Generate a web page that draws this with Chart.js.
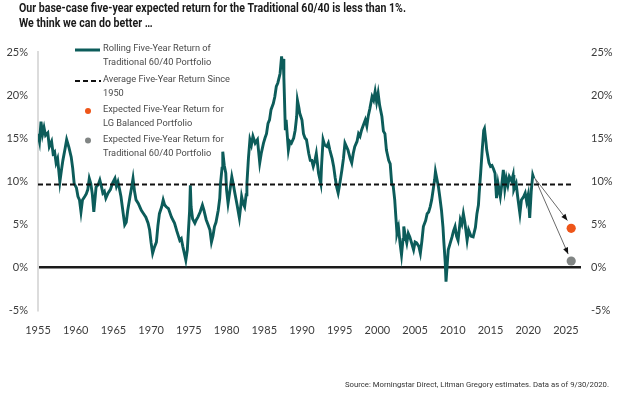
<!DOCTYPE html>
<html>
<head>
<meta charset="utf-8">
<script src="https://cdn.jsdelivr.net/npm/chart.js@4.4.1/dist/chart.umd.min.js"></script>
<style>
  html, body { margin: 0; padding: 0; background: #fff; }
  canvas { display: block; }
</style>
</head>
<body>
<canvas id="returns" width="624" height="399"></canvas>
<script>
// rolling five-year return of the traditional 60/40
const years = [
  1955.0, 1955.2, 1955.4, 1955.6, 1955.8, 1956.0, 1956.3, 1956.5, 1956.8, 1957.0,
  1957.2, 1957.4, 1957.6, 1957.9, 1958.1, 1958.3, 1958.6, 1958.8, 1959.1, 1959.4,
  1959.6, 1959.8, 1960.1, 1960.3, 1960.5, 1960.7, 1960.9, 1961.2, 1961.4, 1961.6,
  1961.8, 1962.0, 1962.2, 1962.4, 1962.6, 1962.7, 1963.0, 1963.2, 1963.4, 1963.6,
  1963.8, 1964.0, 1964.3, 1964.6, 1964.9, 1965.2, 1965.4, 1965.6, 1965.8, 1966.0,
  1966.3, 1966.5, 1966.7, 1966.9, 1967.2, 1967.4, 1967.6, 1967.8, 1968.0, 1968.3,
  1968.7, 1969.0, 1969.3, 1969.6, 1969.8, 1970.0, 1970.2, 1970.4, 1970.7, 1970.9,
  1971.1, 1971.4, 1971.6, 1971.8, 1972.0, 1972.3, 1972.7, 1973.1, 1973.4, 1973.8,
  1974.0, 1974.2, 1974.4, 1974.6, 1974.8, 1974.9, 1975.1, 1975.2, 1975.3, 1975.5,
  1975.8, 1976.0, 1976.2, 1976.5, 1976.8, 1977.0, 1977.3, 1977.6, 1977.8, 1978.0,
  1978.2, 1978.4, 1978.6, 1978.9, 1979.1, 1979.2, 1979.4, 1979.5, 1979.7, 1979.9,
  1980.0, 1980.2, 1980.4, 1980.7, 1980.9, 1981.1, 1981.4, 1981.7, 1981.9, 1982.0,
  1982.2, 1982.4, 1982.6, 1982.7, 1982.9, 1983.1, 1983.3, 1983.5, 1983.8, 1984.1,
  1984.4, 1984.6, 1984.9, 1985.1, 1985.3, 1985.5, 1985.7, 1985.9, 1986.2, 1986.4,
  1986.6, 1986.8, 1987.1, 1987.3, 1987.4, 1987.5, 1987.6, 1987.8, 1987.9, 1988.2,
  1988.4, 1988.6, 1988.9, 1989.1, 1989.3, 1989.4, 1989.6, 1989.7, 1990.0, 1990.2,
  1990.4, 1990.6, 1990.9, 1991.1, 1991.3, 1991.5, 1991.7, 1991.9, 1992.2, 1992.5,
  1992.6, 1992.8, 1993.0, 1993.3, 1993.5, 1993.7, 1994.0, 1994.2, 1994.4, 1994.6,
  1994.8, 1995.0, 1995.3, 1995.5, 1995.7, 1995.9, 1996.1, 1996.4, 1996.6, 1996.8,
  1997.0, 1997.3, 1997.5, 1997.7, 1997.9, 1998.1, 1998.4, 1998.6, 1998.8, 1999.0,
  1999.3, 1999.5, 1999.7, 1999.9, 2000.1, 2000.3, 2000.6, 2000.8, 2001.0, 2001.2,
  2001.5, 2001.7, 2001.9, 2002.1, 2002.3, 2002.5, 2002.6, 2002.8, 2003.0, 2003.2,
  2003.4, 2003.5, 2003.7, 2003.9, 2004.1, 2004.3, 2004.6, 2004.8, 2005.0, 2005.2,
  2005.5, 2005.7, 2005.9, 2006.1, 2006.4, 2006.6, 2006.8, 2007.0, 2007.2, 2007.4,
  2007.6, 2007.7, 2007.9, 2008.1, 2008.3, 2008.5, 2008.7, 2008.8, 2009.0, 2009.1,
  2009.3, 2009.4, 2009.6, 2009.9, 2010.1, 2010.3, 2010.5, 2010.7, 2011.0, 2011.2,
  2011.4, 2011.6, 2011.9, 2012.1, 2012.4, 2012.7, 2013.0, 2013.2, 2013.4, 2013.5,
  2013.7, 2013.9, 2014.1, 2014.2, 2014.4, 2014.5, 2014.8, 2015.0, 2015.2, 2015.4,
  2015.6, 2015.8, 2016.0, 2016.3, 2016.5, 2016.7, 2016.9, 2017.1, 2017.3, 2017.5,
  2017.8, 2018.0, 2018.1, 2018.4, 2018.6, 2018.9, 2019.1, 2019.4, 2019.6, 2019.8,
  2020.0, 2020.2, 2020.4, 2020.6, 2020.75
];
const rolling = [
  15.5, 14.6, 16.9, 15.4, 16.2, 15.3, 15.6, 14.0, 14.6, 13.2,
  13.4, 12.1, 12.6, 9.9, 11.2, 12.4, 13.8, 14.8, 13.9, 12.8,
  11.5, 9.7, 9.2, 8.2, 7.8, 6.4, 7.8, 8.2, 8.5, 9.0,
  10.3, 9.7, 8.5, 6.4, 8.3, 9.3, 9.6, 10.1, 9.4, 8.6,
  8.8, 8.0, 8.6, 9.0, 9.8, 10.3, 9.4, 9.9, 9.1, 8.2,
  6.2, 4.9, 5.2, 6.6, 8.2, 9.2, 10.3, 8.8, 7.8, 7.4,
  6.6, 6.2, 5.8, 5.1, 4.3, 2.8, 1.6, 2.2, 2.9, 4.8,
  6.2, 7.0, 7.8, 7.2, 7.0, 6.8, 5.8, 5.1, 4.2, 3.1,
  3.3, 2.4, 1.6, 0.8, 2.0, 3.5, 6.5, 9.5, 7.0, 5.6,
  5.1, 5.5, 5.8, 6.4, 7.2, 6.6, 5.5, 4.8, 4.3, 2.9,
  3.6, 4.7, 5.2, 6.6, 8.0, 9.7, 11.5, 13.4, 11.8, 10.9,
  9.0, 7.4, 8.6, 10.5, 9.6, 8.6, 7.2, 5.7, 7.2, 8.2,
  7.4, 7.0, 8.4, 9.7, 12.6, 14.8, 14.2, 15.2, 14.4, 14.8,
  12.1, 13.2, 14.4, 15.0, 15.5, 16.7, 17.1, 18.3, 19.0, 19.8,
  21.0, 21.4, 22.5, 24.5, 23.0, 24.2, 22.1, 15.9, 17.1, 13.6,
  14.6, 14.4, 15.0, 15.9, 17.5, 19.4, 18.5, 17.9, 17.1, 15.5,
  15.0, 14.8, 13.2, 12.4, 12.4, 11.7, 12.3, 13.2, 10.9, 9.7,
  11.8, 14.8, 14.2, 14.0, 14.4, 13.6, 12.6, 11.7, 10.4, 9.3,
  8.6, 9.6, 11.3, 12.6, 14.4, 14.0, 13.6, 12.6, 12.1, 13.2,
  14.0, 14.6, 15.5, 15.2, 15.9, 16.4, 17.1, 16.4, 17.6, 18.4,
  19.8, 19.4, 20.4, 19.2, 20.2, 18.8, 17.5, 15.8, 15.5, 13.6,
  12.4, 12.0, 9.7, 9.4, 7.8, 5.2, 3.9, 4.6, 2.8, 1.4,
  3.2, 4.7, 3.6, 2.8, 3.9, 3.5, 2.6, 2.0, 2.9, 2.8,
  2.4, 1.6, 3.0, 4.7, 5.4, 6.2, 6.4, 7.0, 7.8, 9.0,
  10.2, 11.1, 10.2, 9.3, 8.0, 6.6, 4.6, 3.1, 0.5, -1.7,
  0.8, 2.0, 2.6, 3.5, 4.2, 4.7, 3.6, 3.1, 5.5, 5.0,
  6.2, 5.2, 3.1, 4.3, 3.6, 3.5, 4.6, 6.2, 7.2, 8.6,
  11.0, 13.6, 15.9, 16.1, 14.5, 13.6, 12.1, 11.7, 11.8, 11.4,
  10.9, 8.0, 9.7, 8.2, 9.6, 11.3, 9.1, 10.3, 9.5, 10.5,
  10.0, 10.7, 9.0, 9.7, 8.2, 6.2, 7.8, 8.2, 8.6, 7.6,
  8.4, 5.7, 8.8, 10.7, 10.3
];

const averageReturn = 9.6;
const averageSpan = [1955, 2026];
const forecastYear = 2025.7;
const lgBalanced = 4.5;
const traditional = 0.7;
const arrowFrom = [2020.9, 10.3];
const arrowToLg = [2025.2, 5.4];
const arrowToTrad = [2025.3, 1.5];

const xTicks = [1955, 1960, 1965, 1970, 1975, 1980, 1985, 1990, 1995, 2000, 2005, 2010, 2015, 2020, 2025];
const yTicks = [-5, 0, 5, 10, 15, 20, 25];

const titleLines = [
  "Our base-case five-year expected return for the Traditional 60/40 is less than 1%.",
  "We think we can do better \u2026"
];
const legendLines = [
  ["Rolling Five-Year Return of", "Traditional 60/40 Portfolio"],
  ["Average Five-Year Return Since", "1950"],
  ["Expected Five-Year Return for", "LG Balanced Portfolio"],
  ["Expected Five-Year Return for", "Traditional 60/40 Portfolio"]
];
const sourceNote = "Source: Morningstar Direct, Litman Gregory estimates. Data as of 9/30/2020.";

const teal = "#0c5c5a";
const orange = "#ee5519";
const grey = "#818584";

// squeeze/stretch text horizontally so it lands on the measured width
function fitText(ctx, text, x, y, width) {
  const w = ctx.measureText(text).width;
  ctx.save();
  ctx.translate(x, y);
  ctx.scale(width / w, 1);
  ctx.fillText(text, 0, 0);
  ctx.restore();
}

const textPlugin = {
  id: "texts",
  afterDatasetsDraw(chart) {
    const ctx = chart.ctx;
    const xs = chart.scales.x;
    const ys = chart.scales.y;
    // arrow heads
    ctx.save();
    ctx.fillStyle = "#111";
    [arrowToLg, arrowToTrad].forEach((end) => {
      const x0 = xs.getPixelForValue(arrowFrom[0]);
      const y0 = ys.getPixelForValue(arrowFrom[1]);
      const x1 = xs.getPixelForValue(end[0]);
      const y1 = ys.getPixelForValue(end[1]);
      const a = Math.atan2(y1 - y0, x1 - x0);
      ctx.beginPath();
      ctx.moveTo(x1, y1);
      ctx.lineTo(x1 - 7 * Math.cos(a - 0.38), y1 - 7 * Math.sin(a - 0.38));
      ctx.lineTo(x1 - 7 * Math.cos(a + 0.38), y1 - 7 * Math.sin(a + 0.38));
      ctx.closePath();
      ctx.fill();
    });
    ctx.restore();
  },
  afterDraw(chart) {
    const ctx = chart.ctx;
    ctx.save();

    // title
    ctx.fillStyle = "#1a1a1a";
    ctx.textBaseline = "alphabetic";
    ctx.font = "bold 13px Roboto, sans-serif";
    const tScale = 387 / ctx.measureText(titleLines[0]).width;
    titleLines.forEach((line, i) => {
      fitText(ctx, line, 19, 12 + i * 14.5, ctx.measureText(line).width * tScale);
    });

    // legend
    ctx.font = "9.5px Roboto, sans-serif";
    ctx.fillStyle = "#4a4a4a";
    ctx.textBaseline = "middle";
    const lScale = 127 / ctx.measureText(legendLines[1][0]).width;
    const rows = [48.5, 79.5, 110, 139.5];
    legendLines.forEach((pair, i) => {
      pair.forEach((line, j) => {
        fitText(ctx, line, 103, rows[i] + j * 13.8, ctx.measureText(line).width * lScale);
      });
    });

    ctx.lineWidth = 3;
    ctx.strokeStyle = teal;
    ctx.beginPath();
    ctx.moveTo(75, 50);
    ctx.lineTo(100, 50);
    ctx.stroke();

    ctx.lineWidth = 2;
    ctx.strokeStyle = "#111";
    ctx.setLineDash([5, 3]);
    ctx.beginPath();
    ctx.moveTo(75, 81);
    ctx.lineTo(101, 81);
    ctx.stroke();
    ctx.setLineDash([]);

    ctx.fillStyle = orange;
    ctx.beginPath();
    ctx.arc(88, 111, 3, 0, Math.PI * 2);
    ctx.fill();
    ctx.fillStyle = grey;
    ctx.beginPath();
    ctx.arc(88, 140.5, 3, 0, Math.PI * 2);
    ctx.fill();

    // source
    ctx.font = "8px Roboto, sans-serif";
    ctx.fillStyle = "#333";
    ctx.textBaseline = "middle";
    fitText(ctx, sourceNote, 345, 385, 264);

    ctx.restore();
  }
};

const tickFont = { family: "Lato, sans-serif", size: 11 };
const tickColor = "#3c3c3c";

new Chart(document.getElementById("returns"), {
  type: "line",
  data: {
    datasets: [
      {
        data: averageSpan.map((x) => ({ x, y: averageReturn })),
        borderColor: "#111",
        borderWidth: 2,
        borderDash: [5, 3],
        pointRadius: 0
      },
      {
        type: "scatter",
        data: [{ x: forecastYear, y: lgBalanced }],
        backgroundColor: orange,
        borderWidth: 0,
        pointRadius: 4.6
      },
      {
        type: "scatter",
        data: [{ x: forecastYear, y: traditional }],
        backgroundColor: grey,
        borderWidth: 0,
        pointRadius: 4.6
      },
      {
        data: [arrowFrom, arrowToLg].map((p) => ({ x: p[0], y: p[1] })),
        borderColor: "#6a6a6a",
        borderWidth: 1,
        pointRadius: 0
      },
      {
        data: [arrowFrom, arrowToTrad].map((p) => ({ x: p[0], y: p[1] })),
        borderColor: "#6a6a6a",
        borderWidth: 1,
        pointRadius: 0
      },
      {
        data: years.map((x, i) => ({ x, y: rolling[i] })),
        borderColor: teal,
        borderWidth: 2.9,
        pointRadius: 0,
        tension: 0
      }
    ]
  },
  options: {
    responsive: false,
    animation: false,
    layout: { padding: { top: 52, bottom: 65, left: 0, right: 0 } },
    plugins: {
      legend: { display: false },
      tooltip: { enabled: false }
    },
    scales: {
      x: {
        type: "linear",
        min: 1955,
        max: 2027,
        afterBuildTicks: (axis) => { axis.ticks = xTicks.map((value) => ({ value })); },
        afterFit: (axis) => { axis.height = 24; },
        grid: { display: false },
        border: { display: false },
        ticks: {
          font: tickFont,
          color: tickColor,
          padding: 6,
          maxRotation: 0,
          autoSkip: false,
          callback: (v) => String(v)
        }
      },
      y: {
        position: "left",
        min: -5,
        max: 25,
        afterBuildTicks: (axis) => { axis.ticks = yTicks.map((value) => ({ value })); },
        afterFit: (axis) => { axis.width = 38; },
        grid: {
          drawTicks: false,
          lineWidth: 2.5,
          color: (c) => (c.tick && c.tick.value === 0 ? "#1b1b1b" : "rgba(0,0,0,0)")
        },
        border: { display: true, color: "#dcdcdc", width: 2 },
        ticks: {
          font: tickFont,
          color: tickColor,
          padding: 10,
          callback: (v) => v + "%"
        }
      },
      y2: {
        position: "right",
        min: -5,
        max: 25,
        afterBuildTicks: (axis) => { axis.ticks = yTicks.map((value) => ({ value })); },
        afterFit: (axis) => { axis.width = 43; },
        grid: { display: false, drawTicks: false },
        border: { display: false },
        ticks: {
          font: tickFont,
          color: tickColor,
          padding: 10,
          callback: (v) => v + "%"
        }
      }
    }
  },
  plugins: [textPlugin]
});
</script>
</body>
</html>
